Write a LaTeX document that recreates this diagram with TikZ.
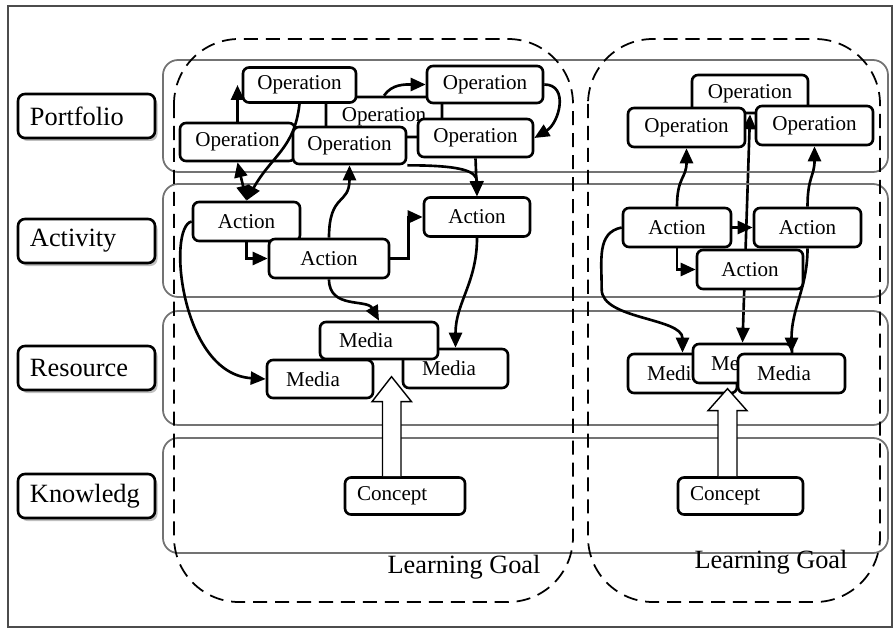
\documentclass[tikz,border=0pt]{standalone}
\usepackage{fontspec}
\setmainfont{Liberation Serif}
\usetikzlibrary{arrows.meta,shadows,backgrounds}
\tikzstyle{layer} = [draw=black!55, line width=1pt, rounded corners=3mm]
\tikzstyle{goal} = [draw=black, line width=1pt, dash pattern=on 8pt off 4.5pt, rounded corners=13mm]
\tikzstyle{layername} = [draw=black, line width=1.5pt, rounded corners=1.4mm, fill=white, align=left, text width=22.6mm, inner xsep=2.4mm, minimum height=8.8mm, font=\fontsize{15}{17}\selectfont, drop shadow={shadow xshift=0.5mm, shadow yshift=-0.6mm, fill=black!25, opacity=1}]
\tikzstyle{elem} = [draw=black, line width=1.5pt, rounded corners=1.2mm, fill=white, minimum height=7.6mm, inner ysep=0pt, font=\fontsize{12}{14}\selectfont]
\tikzstyle{lelem} = [elem, align=left]
\tikzstyle{link} = [line width=1.5pt, -{Triangle[length=3mm,width=2.6mm]}]
\tikzstyle{twolink} = [line width=1.5pt, {Triangle[length=3mm,width=2.6mm]}-{Triangle[length=3mm,width=2.6mm]}]
\tikzstyle{hollow} = [draw=black, line width=0.8pt, fill=white]
\begin{document}
\begin{tikzpicture}[x=0.2mm, y=-0.2mm]
\useasboundingbox (0,0) rectangle (895,632);
\draw[black!70, line width=0.8pt] (8,6) rectangle (892,627);

% layers and goals
\draw[layer] (163,60) rectangle (888,172);
\draw[layer] (163,184) rectangle (888,297);
\draw[layer] (163,311) rectangle (888,425);
\draw[layer] (163,438) rectangle (888,553);
\draw[goal] (174,39) rectangle (573,602);
\draw[goal] (588,39) rectangle (880,602);

\node[layername] (portfolio) at (86.5,116) {Portfolio};
\node[layername] (activity) at (86.5,241) {Activity};
\node[layername] (resource) at (86.5,368) {Resource};
\node[layername] (knowledge) at (86.5,496) {Knowledg};

% first goal
\node[elem, minimum width=23.2mm, minimum height=8mm] (opm) at (384,117) {Operation};
\node[elem, minimum width=22.6mm, minimum height=7mm] (op1) at (299.5,85) {Operation};
\node[elem, minimum width=23.2mm, minimum height=7.4mm] (op3) at (485,84.5) {Operation};
\node[elem, minimum width=23mm] (op2) at (237.5,142) {Operation};
\node[elem, minimum width=22.6mm, minimum height=7.4mm] (op5) at (349.5,145.5) {Operation};
\node[elem, minimum width=23mm] (op4) at (475.5,138) {Operation};

\node[elem, minimum width=21.4mm, minimum height=7.8mm] (act1) at (246.5,221.5) {Action};
\node[elem, minimum width=24mm, minimum height=7.8mm] (act2) at (329,258.5) {Action};
\node[elem, minimum width=21.2mm, minimum height=7.8mm] (act3) at (477,217) {Action};

\node[lelem, text width=13.4mm, inner xsep=3.8mm, minimum height=7.8mm] (medr) at (455.5,368.5) {Media};
\node[lelem, text width=13.6mm, inner xsep=3.8mm] (medl) at (320,379) {Media};
\node[lelem, text width=16mm, inner xsep=3.8mm, minimum height=7.4mm] (medt) at (379,340.5) {Media};

\node[lelem, text width=19.2mm, inner xsep=2.4mm, minimum height=7.4mm] (cpt) at (405,496) {Concept};

\draw[link] (op2.north) -- (op2.north |- op1.west);
\draw[link] (op1.south) .. controls +(-5,45) and +(25,-45) .. (act1.north);
\draw[twolink] (op2.south) -- (act1.north);
\draw[link] (act2.north) .. controls +(0,-45) and +(0,40) .. (op5.south);
\draw[link] (op5.south east) .. controls +(55,0) and +(0,-25) .. (act3.north);
\draw[link] (op4.south) -- (act3.north);
\draw[link] (opm.north) .. controls +(8,-12) and +(-20,0) .. (op3.west);
\draw[link] (op3.east) .. controls +(25,0) and +(25,-15) .. (op4.east);
\draw[link] (act1.south) |- (act2.west);
\draw[link] (act2.east) -- ++(18,0) |- (act3.west);
\draw[link] (act1.west) .. controls +(-25,5) and +(-85,-5) .. (medl.west);
\draw[link] (act2.south) .. controls +(0,30) and +(-12,-22) .. (medt.north);
\draw[link] (act3.south) .. controls +(0,45) and +(0,-45) .. (medr.north);
\draw[hollow] ([xshift=-4.5mm]cpt.north) -- ++(0,-74.5) -- ++(-10.5,0) -- ++(19.5,-25)
  -- ++(20,25) -- ++(-10.5,0) -- ++(0,74.5);

% second goal
\node[elem, minimum width=23.2mm] (rop1) at (750,94) {Operation};
\node[elem, minimum width=23.4mm, minimum height=7.8mm] (rop2) at (686.5,127.5) {Operation};
\node[elem, minimum width=23.4mm, minimum height=7.8mm] (rop3) at (814.5,125.5) {Operation};

\node[elem, minimum width=21.6mm, minimum height=7.8mm] (ract1) at (677,227.5) {Action};
\node[elem, minimum width=21.4mm, minimum height=7.8mm] (ract2) at (807.5,227.5) {Action};
\node[elem, minimum width=21.2mm, minimum height=7.8mm] (ract3) at (750,269.5) {Action};

\node[lelem, text width=14.2mm, inner xsep=3.8mm, minimum height=7.8mm] (rmed1) at (682.5,373.5) {Media};
\node[lelem, text width=12.6mm, inner xsep=3.6mm, minimum height=7.8mm] (rmed2) at (742.5,363.5) {Media};
\node[lelem, text width=13.8mm, inner xsep=3.8mm, minimum height=7.8mm] (rmed3) at (791.5,373.5) {Media};

\node[lelem, text width=20.2mm, inner xsep=2.4mm, minimum height=7.4mm] (rcpt) at (740.5,496) {Concept};

\begin{scope}[on background layer]
\draw[twolink] (rop1.south) -- (rmed2.north);
\end{scope}
\draw[link] (ract1.east) -- (ract2.west);
\draw[link] (ract1.south) |- (ract3.west);
\draw[link] (ract1.north) .. controls +(0,-30) and +(0,30) .. (rop2.south);
\draw[link] (ract2.north) .. controls +(0,-30) and +(0,30) .. (rop3.south);
\draw[link] (ract1.west) .. controls +(-25,5) and +(0,-30) .. ++(-20,62)
  .. controls +(0,30) and +(0,-35) .. (rmed1.north);
\draw[link] (ract2.south) .. controls +(0,40) and +(0,-45) .. (rmed3.north);
\draw[hollow] ([xshift=-4.5mm]rcpt.north) -- ++(0,-65.5) -- ++(-10,0) -- ++(19.5,-22)
  -- ++(19.5,22) -- ++(-10,0) -- ++(0,65.5);

\node[font=\fontsize{15}{17}\selectfont] (lg1) at (464,567) {Learning Goal};
\node[font=\fontsize{15}{17}\selectfont] (lg2) at (771,562) {Learning Goal};
\end{tikzpicture}
\end{document}
